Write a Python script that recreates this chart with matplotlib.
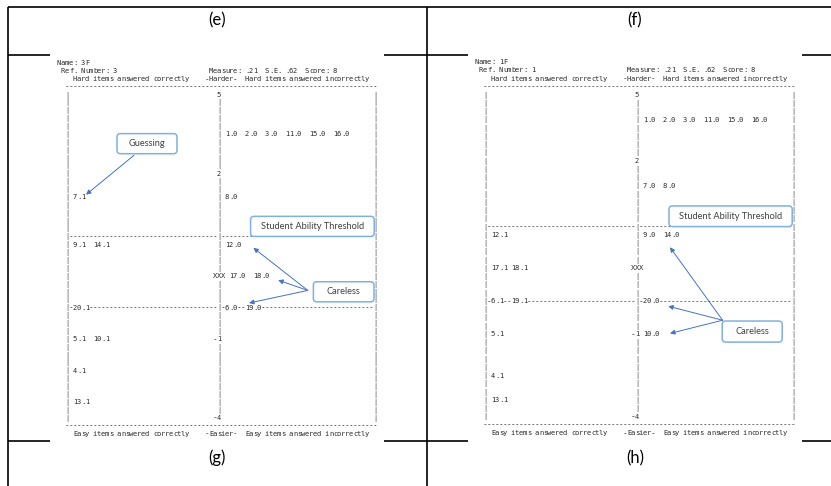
import matplotlib.pyplot as plt
from matplotlib.patches import FancyBboxPatch

# ---- data: two Winsteps-style kidmaps ----
# student info: name, ref number, measure, S.E., score
g_info = ["3F", "3", ".21", ".62", "8"]
g_scale = {0: "5", 10: "2", 31: "-1", 41: "-4"}
g_left = {13: "7.1", 19: "9.1  14.1", 27: "20.1", 31: "5.1  10.1", 35: "4.1", 39: "13.1"}
g_right = {5: "1.0  2.0  3.0  11.0  15.0  16.0", 13: "8.0", 19: "12.0",
           23: "17.0  18.0", 27: "6.0--19.0"}
g_bands = [18, 27]
g_xxx = 23
g_nrows = 42

h_info = ["1F", "1", ".21", ".62", "8"]
h_scale = {0: "5", 8: "2", 29: "-1", 39: "-4"}
h_left = {17: "12.1", 21: "17.1 18.1", 25: "6.1--19.1", 29: "5.1", 34: "4.1", 37: "13.1"}
h_right = {3: "1.0  2.0  3.0  11.0  15.0  16.0", 11: "7.0  8.0", 17: "9.0  14.0",
           25: "20.0", 29: "10.0"}
h_bands = [16, 25]
h_xxx = 21
h_nrows = 40

panel_labels = ["(e)", "(f)", "(g)", "(h)"]
note_texts = ["Guessing", "Student Ability Threshold", "Careless"]

TXT = "#2a2a2a"
LINE = "#4a4a4a"
BOX = "#7fb1de"
ARR = "#4472c4"


def kidmap_lines(info, scale, left, right, bands, xxx, nrows):
    name, ref, meas, se, score = info
    lines = {}
    lines[-4] = "Name: " + name
    lines[-3] = (" Ref. Number: " + ref).ljust(38) + \
        "Measure: %s  S.E. %s  Score: %s" % (meas, se, score)
    lines[-2] = "    Hard items answered correctly    -Harder-  Hard items answered incorrectly"
    lines[-1] = "  " + "-" * 78
    for r in range(nrows):
        row = [" "] * 80
        row[2] = row[40] = row[79] = "|"
        if r in bands:
            row[3:40] = "-" * 37
            row[41:79] = "-" * 38
        if r in scale:
            s = scale[r]
            row[41 - len(s):41] = s
        start = 42
        if r == xxx:
            row[39:42] = "XXX"
            start = 43
        if r in left:
            s = left[r]
            row[4:4 + len(s)] = s
        if r in right:
            s = right[r]
            row[start:start + len(s)] = s
        lines[r] = "".join(row)
    lines[nrows] = "  " + "-" * 78
    lines[nrows + 1] = "    Easy items answered correctly    -Easier-  Easy items answered incorrectly"
    return lines


fig = plt.figure(figsize=(8.31, 4.86), dpi=100)
base = fig.add_axes([0, 0, 1, 1])
base.set_xlim(0, 831)
base.set_ylim(486, 0)
base.axis("off")

# table frame
kw = dict(color="black", lw=1.2, solid_capstyle="butt")
base.plot([8, 831], [7, 7], **kw)
base.plot([8, 8], [7, 486], **kw)
base.plot([427, 427], [7, 486], **kw)
for yy in (55.5, 441):
    base.plot([8, 50], [yy, yy], **kw)
    base.plot([384, 468], [yy, yy], **kw)
    base.plot([802, 831], [yy, yy], **kw)

for lab, (x, y) in zip(panel_labels, [(217, 20), (635, 20), (217, 458), (635, 458)]):
    base.text(x, y, lab, ha="center", va="center", fontsize=12, family="Lato", color="black")


def draw_panel(px0, px1, rh, lines):
    top, bot = 55.5, 441
    ax = fig.add_axes([px0 / 831, 1 - bot / 486, (px1 - px0) / 831, (bot - top) / 486])
    ax.set_xlim(-7 / 4, (px1 - (px0 + 7)) / 4)
    ax.set_ylim((bot - 95) / rh, (top - 95) / rh)
    ax.axis("off")
    for r, s in lines.items():
        for c, ch in enumerate(s):
            if ch == " ":
                continue
            if ch == "-":
                size, col = 5.6, LINE
            elif ch == "|":
                size, col = 5.0, LINE
            else:
                size, col = 5.1, TXT
            ax.text(c + 0.5, r, ch, ha="center", va="center", fontsize=size,
                    family="DejaVu Sans Mono", color=col)
    return ax


def note(ax, ox, rh, text, box, start=None, tips=()):
    # box given in (col, row) units of the kidmap; drawn in pixel units
    c0, c1, r0, r1 = box
    x0, x1 = ox + 4 * c0, ox + 4 * c1
    y0, y1 = 95 + rh * r0, 95 + rh * r1
    p = FancyBboxPatch((x0, y0), x1 - x0, y1 - y0,
                       boxstyle="round,pad=0,rounding_size=3.5",
                       transform=base.transData, fc="white", ec=BOX, lw=1.1, zorder=3)
    ax.add_patch(p)
    ax.text((x0 + x1) / 2, (y0 + y1) / 2, text, ha="center", va="center",
            transform=base.transData, fontsize=6.7, family="Lato", color="#404040", zorder=4)
    for t in tips:
        ax.annotate("", xy=t, xytext=start,
                    arrowprops=dict(arrowstyle="-|>", color=ARR, lw=0.7,
                                    mutation_scale=7, shrinkA=0, shrinkB=0), zorder=2)


rh_g, rh_h = 7.88, 8.25
ax_g = draw_panel(50, 384, rh_g, kidmap_lines(g_info, g_scale, g_left, g_right, g_bands, g_xxx, g_nrows))
ax_h = draw_panel(468, 802, rh_h, kidmap_lines(h_info, h_scale, h_left, h_right, h_bands, h_xxx, h_nrows))

note(ax_g, 57, rh_g, note_texts[0], (15, 30, 4.9, 7.45), (19.25, 7.65), [(7.25, 12.65)])
note(ax_g, 57, rh_g, note_texts[1], (48.4, 79.3, 15.4, 17.95))
note(ax_g, 57, rh_g, note_texts[2], (64.1, 79.25, 23.7, 26.25), (62.7, 24.8),
     [(49.1, 19.4), (55.3, 23.5), (48.0, 26.4)])

note(ax_h, 475, rh_h, note_texts[1], (48.5, 79.3, 13.45, 15.95))
note(ax_h, 475, rh_h, note_texts[2], (61.8, 76.8, 27.4, 29.95), (61.9, 27.3),
     [(48.75, 18.45), (48.3, 25.6), (48.75, 28.9)])

fig.savefig("out.png", dpi=100)
